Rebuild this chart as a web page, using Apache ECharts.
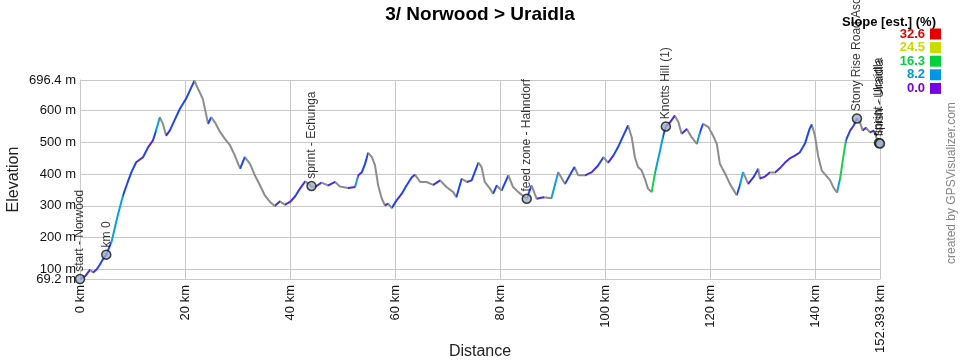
<!DOCTYPE html>
<html><head><meta charset="utf-8">
<script src="https://cdn.jsdelivr.net/npm/echarts@6/dist/echarts.min.js"></script>
<style>html,body{margin:0;padding:0;background:#fff}#c{width:960px;height:360px}</style>
</head><body><div id="c"></div>
<script>
const chartTitle = '3/ Norwood > Uraidla';
const distanceKm = [0,1.0,1.9,2.5,3.2,3.8,4.4,5.0,6.0,7.2,8.2,9.1,9.8,10.7,12.0,13.0,13.9,14.5,15.2,15.8,16.4,17.1,18.0,19.0,20.2,21.2,21.8,22.5,23.4,24.4,25.0,25.7,26.7,27.6,28.6,29.5,30.5,31.4,32.4,33.3,34.3,35.2,36.2,37.1,38.1,39.0,40.0,41.0,41.9,42.9,44.1,44.8,46.0,47.3,48.6,49.5,51.1,52.4,53.0,53.7,54.3,54.9,55.6,56.2,56.8,57.5,58.1,58.7,59.4,60.3,61.3,62.2,63.2,63.8,64.8,66.0,67.3,68.6,69.8,71.1,71.7,72.7,73.7,74.6,75.2,75.9,76.5,77.1,78.1,78.7,79.4,80.3,81.6,82.5,83.5,85.1,86.0,87.0,88.3,89.8,91.1,92.4,93.3,94.2,94.9,96.2,97.5,98.7,99.7,100.6,101.6,102.5,103.5,104.4,105.1,105.7,106.3,107.0,107.6,108.2,108.9,109.5,110.5,111.1,111.6,112.4,113.3,114.0,114.6,115.6,116.5,117.5,118.1,118.7,119.7,120.6,121.3,121.9,122.9,123.8,125.1,125.7,126.3,127.3,128.3,129.2,129.5,130.5,131.4,132.4,133.3,134.3,135.2,136.2,137.1,138.1,139.0,139.4,140.0,140.6,141.3,142.1,142.9,143.6,144.2,144.8,145.3,145.9,146.7,147.4,148.0,148.6,149.1,149.7,150.5,151.2,151.8,152.393];
const elevationM = [69.2,78,98,90,100,115,132,146,186,270,333,375,406,437,453,485,506,537,579,558,521,537,569,605,637,673,694,668,637,558,579,563,532,511,490,458,417,453,432,396,364,333,312,299,314,303,312,330,354,377,362,359,373,364,375,361,356,359,396,406,432,467,453,427,364,322,301,307,293,317,338,364,390,398,375,375,366,380,359,343,327,385,375,380,406,436,422,375,354,338,364,348,396,359,343,322,364,322,327,324,406,369,396,422,396,396,406,427,453,436,458,485,521,553,516,453,422,411,385,354,343,401,474,521,550,563,584,563,527,542,516,495,532,558,548,521,495,432,401,369,333,364,406,369,390,417,386,392,405,405,418,436,449,458,468,496,543,556,521,458,411,396,380,355,342,386,443,506,537,553,575,562,537,546,531,537,512,496];
const waypointNames = ['start - Norwood','km 0','sprint - Echunga','feed zone - Hahndorf','Knotts Hill (1)','Stony Rise Road Ascent','sprint - Uraidla','finish - Uraidla'];
const waypointKm = [0,5.0,44.1,85.1,111.6,148.0,152.2,152.393];
const waypointElev = [69.2,146,362,322,550,575,498,496];
const xTickValues = [0,20,40,60,80,100,120,140,152.393];
const yTickValues = [69.2,100,200,300,400,500,600,696.4];
const slopeLegendLabels = ['32.6','24.5','16.3','8.2','0.0'];
const slopeLegendColors = ['#e60000','#c8dc00','#00d23c','#0096e6','#7800e6'];

const FONT = '"Liberation Sans", Arial, sans-serif';
const GRID = '#c8c8c8';

// colour pieces along distance, from the climb/descent of each segment
function slopeColor(s){
  if (s <= 0.2) return '#8c8c8c';
  if (s < 2.5) return '#4a2ce6';
  if (s < 6) return '#1e46f0';
  if (s < 9) return '#0aa0e0';
  return '#18d050';
}
const pieces = [];
for (let i = 1; i < distanceKm.length; i++) {
  const s = (elevationM[i]-elevationM[i-1]) / ((distanceKm[i]-distanceKm[i-1])*1000) * 100;
  const c = slopeColor(s);
  const last = pieces[pieces.length-1];
  if (last && last.color === c) last.lt = distanceKm[i];
  else pieces.push({gte: distanceKm[i-1], lt: distanceKm[i], color: c});
}
pieces[pieces.length-1].lte = pieces[pieces.length-1].lt; delete pieces[pieces.length-1].lt;

const graphics = [];
graphics.push({type:'text', right: 24, top: 16, style:{text:'Slope [est.] (%)', font:'bold 13px '+FONT, fill:'#000'}});
slopeLegendLabels.forEach((t,i)=>{
  const yc = 34 + i*13.6;
  graphics.push({type:'text', x: 925, y: yc, style:{text:t, font:'bold 13px '+FONT, fill:slopeLegendColors[i], textAlign:'right', textVerticalAlign:'middle'}});
  graphics.push({type:'rect', shape:{x:930, y:yc-5.5, width:11, height:11}, style:{fill:slopeLegendColors[i]}});
});
graphics.push({type:'text', x: 952, y: 264, rotation: Math.PI/2, style:{text:'created by GPSVisualizer.com', font:'12px '+FONT, fill:'#858585', textAlign:'left', textVerticalAlign:'middle'}});

const yLabelCommon = {margin: 4, fontFamily:FONT, fontSize:13, color:'#111', formatter: v => v + ' m', showMinLabel:true, showMaxLabel:true, hideOverlap:false};

const chart = echarts.init(document.getElementById('c'), null, {renderer:'canvas'});
chart.setOption({
  animation: false,
  backgroundColor: '#fff',
  title: {text: chartTitle, left: 'center', top: 0, textStyle:{fontFamily: FONT, fontSize: 19, fontWeight:'bold', color:'#000'}},
  grid: {left: 80, right: 80, top: 80, bottom: 81, containLabel: false, outerBoundsMode: 'none'},
  graphic: graphics,
  visualMap: {type:'piecewise', show:false, dimension:0, seriesIndex:0, pieces: pieces},
  xAxis: {
    type:'value', min: 0, max: 152.393,
    name:'Distance', nameLocation:'middle', nameGap: 65, nameMoveOverlap: false,
    nameTextStyle:{fontFamily:FONT, fontSize:16, color:'#222'},
    axisLine:{show:true, lineStyle:{color:GRID}},
    axisTick:{show:false, customValues: xTickValues},
    axisLabel:{customValues: xTickValues, showMinLabel:true, showMaxLabel:true, hideOverlap:false, rotate: 90, margin: 6, fontFamily:FONT, fontSize:13, color:'#111', formatter: v => v + ' km'},
    splitLine:{show:true, lineStyle:{color:GRID, width:1}}
  },
  yAxis: [{
    type:'value', min: 69.2, max: 696.4,
    name:'Elevation', nameLocation:'middle', nameGap: 58, nameMoveOverlap: false,
    nameTextStyle:{fontFamily:FONT, fontSize:16, color:'#222'},
    axisLine:{show:true, lineStyle:{color:GRID}},
    axisTick:{show:false, customValues: yTickValues},
    axisLabel:Object.assign({customValues: yTickValues}, yLabelCommon),
    splitLine:{show:true, lineStyle:{color:GRID, width:1}}
  }, {
    type:'value', min: 69.2, max: 696.4, position:'left', offset: 0,
    axisLine:{show:false}, axisTick:{show:false, customValues:[yTickValues[1]]}, splitLine:{show:false},
    axisLabel:Object.assign({customValues: [yTickValues[1]]}, yLabelCommon)
  }],
  series: [
    {type:'line', data: distanceKm.map((k,i)=>[k, elevationM[i]]), showSymbol:false, symbol:'none',
     lineStyle:{width:2}, z:2, silent:true},
    {type:'scatter', data: waypointKm.map((k,i)=>({value:[k, waypointElev[i]], name: waypointNames[i]})),
     symbol:'circle', symbolSize: 9, z:3, clip:false,
     itemStyle:{color:'#9fb0c8', borderColor:'#111', borderWidth:1.5},
     label:{show:true, formatter: p => p.name, rotate: 90, position:'top', distance: 2, align:'left', verticalAlign:'middle',
            fontFamily: FONT, fontSize: 12, color:'#000'}}
  ]
});
</script></body></html>
